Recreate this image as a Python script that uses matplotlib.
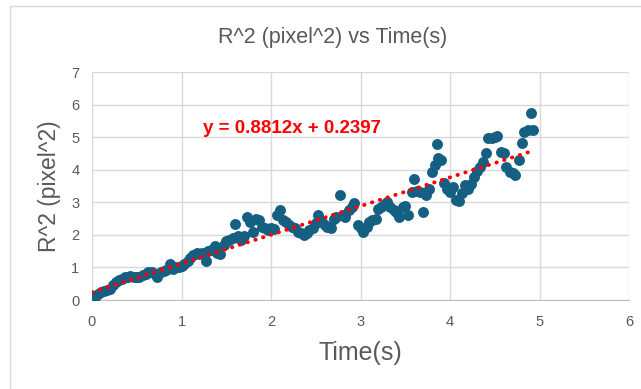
import numpy as np
import matplotlib
matplotlib.use("Agg")
import matplotlib.pyplot as plt
from matplotlib.patches import Rectangle

plt.rcParams['font.family'] = ['Liberation Sans', 'DejaVu Sans']

# data
time_s = [0.00, 0.03, 0.07, 0.10, 0.13, 0.17, 0.20, 0.23, 0.27, 0.30, 0.33, 0.37, 0.40, 0.43, 0.47,
          0.50, 0.53, 0.57, 0.60, 0.63, 0.67, 0.70, 0.73, 0.77, 0.80, 0.83, 0.87, 0.90, 0.93, 0.97,
          1.00, 1.03, 1.07, 1.10, 1.13, 1.17, 1.20, 1.23, 1.27, 1.30, 1.33, 1.37, 1.40, 1.43, 1.47,
          1.50, 1.53, 1.57, 1.60, 1.63, 1.67, 1.70, 1.73, 1.77, 1.80, 1.83, 1.87, 1.90, 1.93, 1.97,
          2.00, 2.03, 2.07, 2.10, 2.13, 2.17, 2.20, 2.23, 2.27, 2.30, 2.33, 2.37, 2.40, 2.43, 2.47,
          2.50, 2.53, 2.57, 2.60, 2.63, 2.67, 2.70, 2.73, 2.77, 2.80, 2.83, 2.87, 2.90, 2.93, 2.97,
          3.00, 3.03, 3.07, 3.10, 3.13, 3.17, 3.20, 3.23, 3.27, 3.30, 3.33, 3.37, 3.40, 3.43, 3.47,
          3.50, 3.53, 3.57, 3.60, 3.63, 3.67, 3.70, 3.73, 3.77, 3.80, 3.83, 3.85, 3.87, 3.90, 3.93,
          3.97, 4.00, 4.03, 4.07, 4.10, 4.13, 4.17, 4.20, 4.23, 4.27, 4.30, 4.33, 4.37, 4.40, 4.43,
          4.47, 4.50, 4.53, 4.57, 4.60, 4.63, 4.67, 4.70, 4.73, 4.77, 4.80, 4.83, 4.87, 4.90, 4.93]
r2_px2 = [0.00, 0.10, 0.18, 0.25, 0.28, 0.30, 0.35, 0.45, 0.55, 0.60, 0.65, 0.70, 0.72, 0.75, 0.72,
          0.70, 0.72, 0.78, 0.80, 0.85, 0.87, 0.80, 0.72, 0.85, 0.90, 0.92, 1.12, 0.95, 1.00, 1.02,
          1.05, 1.10, 1.20, 1.30, 1.38, 1.43, 1.40, 1.45, 1.20, 1.50, 1.55, 1.65, 1.45, 1.40, 1.70,
          1.80, 1.85, 1.90, 2.32, 1.95, 1.85, 1.95, 2.56, 2.40, 2.10, 2.50, 2.45, 2.25, 2.20, 2.15,
          2.20, 2.18, 2.60, 2.76, 2.45, 2.40, 2.30, 2.25, 2.20, 2.10, 2.05, 1.99, 2.05, 2.15, 2.20,
          2.35, 2.61, 2.40, 2.30, 2.25, 2.20, 2.50, 2.55, 3.22, 2.60, 2.56, 2.75, 2.85, 2.97, 2.30,
          2.20, 2.10, 2.25, 2.40, 2.45, 2.50, 2.80, 2.86, 2.95, 3.02, 2.85, 2.76, 2.70, 2.56, 2.86,
          2.90, 2.61, 3.32, 3.73, 3.35, 3.32, 2.71, 3.22, 3.40, 3.94, 4.14, 4.79, 4.35, 4.30, 3.58,
          3.40, 3.32, 3.48, 3.07, 3.05, 3.30, 3.53, 3.40, 3.55, 3.78, 3.95, 4.09, 4.25, 4.50, 4.96,
          4.98, 5.00, 5.05, 4.55, 4.50, 4.09, 3.94, 3.90, 3.83, 4.29, 4.81, 5.16, 5.21, 5.75, 5.21]

slope = 0.8812
intercept = 0.2397
equation = "y = 0.8812x + 0.2397"

W, H = 641, 389
fig = plt.figure(figsize=(W / 100, H / 100), dpi=100)
fig.patch.set_facecolor('white')

# chart border (runs off the right/bottom of the picture)
fig.add_artist(Rectangle((10 / W, -0.2), 1.2, 1.2 - 6 / H, transform=fig.transFigure,
                         fill=False, edgecolor='#D9D9D9', linewidth=1.0, clip_on=False))

ax = fig.add_axes([92 / W, 1 - 300 / H, (629 - 92) / W, (300 - 72) / H])

ax.scatter(time_s, r2_px2, s=62, color='#156082', zorder=3, linewidths=0)

x_fit = np.array([min(time_s), max(time_s)])
ax.plot(x_fit, slope * x_fit + intercept, color='#FF0000', linestyle=(0, (0.1, 2.0)),
        linewidth=2.8, dash_capstyle='round', zorder=4)

ax.text(1.24, 5.28, equation, color='#FF0000', fontsize=13.5, fontweight='bold',
        va='center', ha='left', zorder=5)

ax.set_xlim(0, 6)
ax.set_ylim(0, 7)
ax.set_xticks(range(0, 7))
ax.set_yticks(range(0, 8))
ax.grid(True, color='#D9D9D9', linewidth=1.0, zorder=0)
ax.set_axisbelow(True)
for side in ['top', 'right', 'left']:
    ax.spines[side].set_visible(False)
ax.spines['bottom'].set_color('#BFBFBF')
ax.tick_params(length=0, colors='#595959', labelsize=10.5)
ax.tick_params(axis='x', pad=11)
ax.tick_params(axis='y', pad=9)

ax.set_xlabel('Time(s)', fontsize=18, color='#595959')
ax.set_ylabel('R^2 (pixel^2)', fontsize=16.5, color='#595959')
ax.xaxis.set_label_coords(0.5, -0.18)
ax.yaxis.set_label_coords(-0.058, 0.5)
fig.text(333 / W, 1 - 37 / H, 'R^2 (pixel^2) vs Time(s)', fontsize=15.5, color='#595959',
         ha='center', va='center')

fig.savefig('out.png', dpi=100)
